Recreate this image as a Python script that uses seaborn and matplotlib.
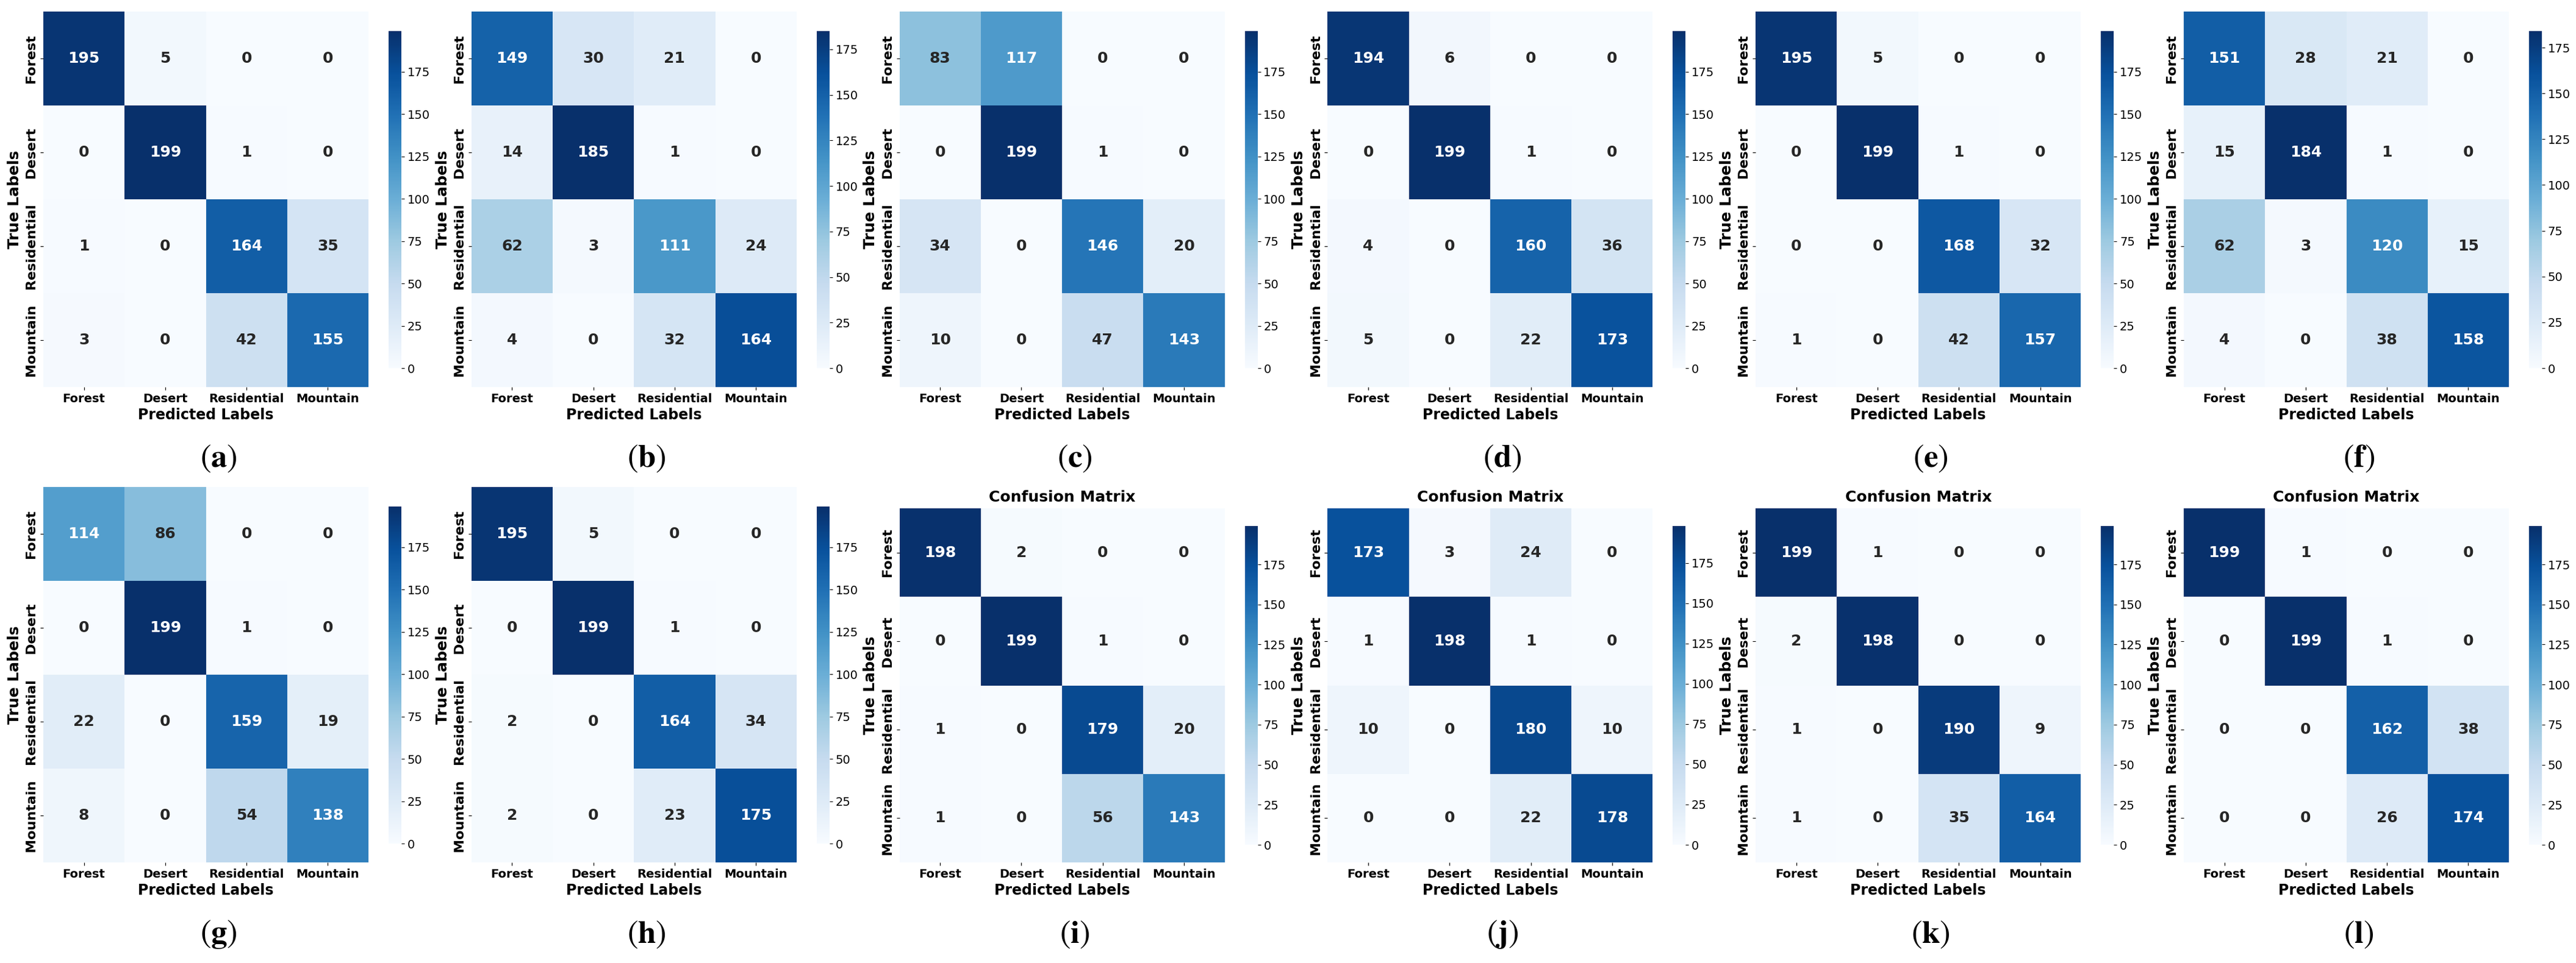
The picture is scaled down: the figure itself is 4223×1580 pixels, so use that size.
import numpy as np
import matplotlib
matplotlib.use('Agg')
import matplotlib.pyplot as plt
import seaborn as sns

# klasy
classes = ['Forest', 'Desert', 'Residential', 'Mountain']

# macierze pomyłek (a)-(l)
cm_a = [[195, 5, 0, 0], [0, 199, 1, 0], [1, 0, 164, 35], [3, 0, 42, 155]]
cm_b = [[149, 30, 21, 0], [14, 185, 1, 0], [62, 3, 111, 24], [4, 0, 32, 164]]
cm_c = [[83, 117, 0, 0], [0, 199, 1, 0], [34, 0, 146, 20], [10, 0, 47, 143]]
cm_d = [[194, 6, 0, 0], [0, 199, 1, 0], [4, 0, 160, 36], [5, 0, 22, 173]]
cm_e = [[195, 5, 0, 0], [0, 199, 1, 0], [0, 0, 168, 32], [1, 0, 42, 157]]
cm_f = [[151, 28, 21, 0], [15, 184, 1, 0], [62, 3, 120, 15], [4, 0, 38, 158]]
cm_g = [[114, 86, 0, 0], [0, 199, 1, 0], [22, 0, 159, 19], [8, 0, 54, 138]]
cm_h = [[195, 5, 0, 0], [0, 199, 1, 0], [2, 0, 164, 34], [2, 0, 23, 175]]
cm_i = [[198, 2, 0, 0], [0, 199, 1, 0], [1, 0, 179, 20], [1, 0, 56, 143]]
cm_j = [[173, 3, 24, 0], [1, 198, 1, 0], [10, 0, 180, 10], [0, 0, 22, 178]]
cm_k = [[199, 1, 0, 0], [2, 198, 0, 0], [1, 0, 190, 9], [1, 0, 35, 164]]
cm_l = [[199, 1, 0, 0], [0, 199, 1, 0], [0, 0, 162, 38], [0, 0, 26, 174]]

matrices = [cm_a, cm_b, cm_c, cm_d, cm_e, cm_f, cm_g, cm_h, cm_i, cm_j, cm_k, cm_l]
tags = ['a', 'b', 'c', 'd', 'e', 'f', 'g', 'h', 'i', 'j', 'k', 'l']
titled = [False] * 8 + [True] * 4

plt.rcParams['mathtext.fontset'] = 'stix'

W, H = 4223, 1580
fig = plt.figure(figsize=(W / 100, H / 100), dpi=100)


def frac(x0, y0, w, h):
    return [x0 / W, 1 - (y0 + h) / H, w / W, h / H]


for i, cm in enumerate(matrices):
    row, col = i // 6, i % 6
    left = 71 + 701.8 * col
    if row == 0:
        hm_top, hm_h, cb_top, cb_h = 19, 616, 51, 553
    elif titled[i]:
        hm_top, hm_h, cb_top, cb_h = 834, 581, 863, 523
    else:
        hm_top, hm_h, cb_top, cb_h = 799, 616, 831, 553

    ax = fig.add_axes(frac(left, hm_top, 533, hm_h))
    cax = fig.add_axes(frac(left + 566, cb_top, 21, cb_h))

    sns.heatmap(np.array(cm), annot=True, fmt='d', cmap='Blues', ax=ax, cbar_ax=cax,
                xticklabels=classes, yticklabels=classes,
                annot_kws={'fontsize': 18, 'fontweight': 'bold'})

    ax.set_xticklabels(classes, rotation=0, fontsize=14, fontweight='bold')
    ax.set_yticklabels(classes, rotation=90, va='center', fontsize=16, fontweight='bold')
    ax.set_xlabel('Predicted Labels', fontsize=17, fontweight='bold', labelpad=4)
    ax.set_ylabel('True Labels', fontsize=18, fontweight='bold', labelpad=4)
    if titled[i]:
        ax.set_title('Confusion Matrix', fontsize=18, fontweight='bold', pad=8)
    cax.tick_params(labelsize=14)

    # podpis panelu
    lab_y = 752 if row == 0 else 1533
    fig.text((358 + 701.8 * col) / W, 1 - lab_y / H, r'$(\mathbf{%s})$' % tags[i],
             fontsize=38, ha='center', va='center')

plt.savefig('out.png', dpi=100)
